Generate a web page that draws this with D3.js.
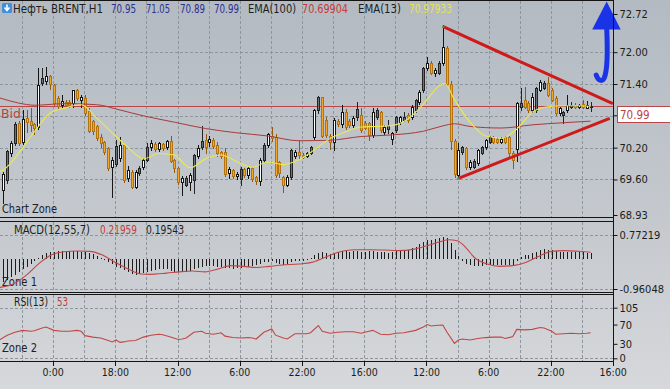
<!DOCTYPE html>
<html lang="ru">
<head>
<meta charset="UTF-8">
<title>Нефть BRENT,H1</title>
<script src="https://cdn.jsdelivr.net/npm/d3@7"></script>
<style>
  html, body { margin: 0; padding: 0; background: #d4d7da; }
  svg { display: block; font-family: "DejaVu Sans Condensed", "DejaVu Sans", sans-serif; }
</style>
</head>
<body>
<svg id="chart" width="670" height="389"></svg>
<script>
// ---- H1 bars ----
const open = [69.40,69.58,70.10,70.29,70.66,70.30,70.76,70.70,70.64,70.59,
  71.42,71.45,71.55,71.38,71.13,71.00,71.07,71.06,71.04,71.28,
  71.10,71.14,70.90,70.70,70.60,70.40,70.31,70.20,69.84,69.90,
  70.00,70.25,69.62,69.75,69.46,69.72,69.83,69.97,70.20,70.27,
  70.17,70.26,70.20,70.32,69.97,69.82,69.55,69.49,69.55,69.58,
  70.05,70.22,70.35,70.30,70.35,70.25,70.12,70.12,69.72,69.78,
  69.66,69.62,69.80,69.68,69.82,69.64,69.56,69.96,70.25,70.42,
  70.40,69.92,69.65,69.50,69.65,70.04,70.12,70.07,70.04,70.10,
  70.40,70.91,71.15,70.72,70.42,70.30,70.70,70.64,70.88,70.70,
  70.62,70.76,70.82,70.66,70.66,70.44,70.78,70.87,70.50,70.55,
  70.35,70.53,70.68,70.72,70.82,70.78,70.91,71.06,71.29,71.70,
  71.80,71.61,71.61,71.80,72.08,71.40,70.33,69.68,70.12,70.20,
  69.84,69.84,69.91,70.10,70.21,70.31,70.40,70.37,70.31,70.40,
  70.40,70.10,70.18,70.97,71.10,71.04,70.91,70.91,71.29,71.33,
  71.42,71.29,71.14,70.85,70.82,70.91,70.97,71.01,70.97,71.02,
  70.96,70.98];
const high = [69.75,70.16,70.33,70.68,70.70,70.91,70.91,70.95,70.66,71.70,
  71.70,71.72,71.57,71.40,71.18,71.19,71.10,71.10,71.29,71.30,
  71.19,71.19,70.95,70.72,70.62,70.45,70.33,70.22,70.02,70.34,
  70.40,70.27,69.85,69.78,69.78,69.86,70.00,70.28,70.34,70.30,
  70.30,70.28,70.34,70.42,69.99,69.84,69.66,69.66,69.72,70.08,
  70.25,70.61,70.45,70.42,70.38,70.30,70.14,70.20,69.84,69.80,
  69.75,69.84,69.82,69.86,69.84,69.66,70.00,70.28,70.48,70.59,
  70.45,69.95,69.67,69.68,70.18,70.16,70.34,70.10,70.12,70.24,
  70.93,71.17,71.16,70.78,70.45,70.76,70.74,71.00,70.92,70.74,
  70.80,71.07,70.94,70.70,70.68,70.95,70.95,70.90,70.62,70.72,
  70.50,70.80,70.80,70.87,70.85,71.00,71.12,71.28,71.72,71.91,
  71.84,71.70,71.84,72.51,72.12,71.45,70.36,70.29,70.24,70.22,
  69.96,69.98,70.18,70.24,70.36,70.42,70.42,70.40,70.40,70.42,
  70.42,70.14,71.06,71.32,71.34,71.08,71.23,71.34,71.47,71.45,
  71.53,71.32,71.17,70.97,70.90,71.19,71.06,71.04,71.02,71.10,
  71.08,71.07];
const low = [69.16,69.53,70.05,70.25,70.25,70.26,70.50,70.52,70.45,70.55,
  71.38,71.40,71.30,71.00,70.94,70.96,70.99,70.97,70.96,71.10,
  70.96,70.82,70.50,70.45,70.35,70.22,70.08,69.78,69.27,69.86,
  69.95,69.55,69.58,69.44,69.44,69.69,69.80,69.95,70.15,70.14,
  70.14,70.15,70.17,69.92,69.75,69.52,69.30,69.47,69.40,69.34,
  70.00,70.18,70.10,70.24,70.20,70.05,70.00,69.66,69.62,69.62,
  69.60,69.50,69.64,69.62,69.58,69.52,69.50,69.92,70.22,70.33,
  69.65,69.65,69.36,69.47,69.60,70.00,69.98,70.00,70.02,70.08,
  70.36,70.86,70.40,70.40,70.18,70.16,70.60,70.58,70.56,70.58,
  70.58,70.72,70.50,70.55,70.34,70.40,70.74,70.50,70.46,70.48,
  70.27,70.50,70.65,70.70,70.68,70.74,70.88,71.02,71.25,71.66,
  71.58,71.56,71.58,71.76,71.38,70.18,69.64,69.64,70.08,69.80,
  69.80,69.82,69.88,70.08,70.18,70.29,70.28,70.29,70.28,70.28,
  70.02,69.82,69.95,70.91,70.94,70.88,70.88,70.88,71.26,71.30,
  71.17,71.08,70.82,70.82,70.66,70.88,70.95,70.94,70.94,70.95,
  70.94,70.90];
const close = [69.70,70.13,70.28,70.65,70.29,70.74,70.68,70.62,70.57,71.38,
  71.51,71.55,71.39,71.04,70.97,71.08,71.02,71.01,71.28,71.13,
  71.16,70.86,70.53,70.52,70.38,70.29,70.12,69.82,69.97,70.24,
  70.25,69.59,69.78,69.46,69.75,69.82,69.97,70.22,70.28,70.17,
  70.28,70.18,70.32,69.95,69.82,69.55,69.62,69.63,69.68,70.06,
  70.20,70.33,70.22,70.36,70.24,70.10,70.05,69.70,69.80,69.66,
  69.70,69.80,69.68,69.82,69.62,69.56,69.96,70.25,70.45,70.38,
  69.68,69.72,69.50,69.65,70.16,70.12,70.06,70.03,70.10,70.21,
  70.91,71.15,70.42,70.44,70.30,70.72,70.64,70.87,70.60,70.62,
  70.76,70.92,70.53,70.57,70.44,70.87,70.91,70.53,70.59,70.62,
  70.47,70.78,70.78,70.78,70.72,70.97,71.10,71.25,71.70,71.80,
  71.61,71.66,71.80,72.10,71.40,70.33,69.70,70.15,70.21,69.84,
  69.93,69.95,70.16,70.21,70.34,70.40,70.31,70.31,70.37,70.31,
  70.10,69.96,71.04,71.04,70.97,70.91,71.15,71.32,71.44,71.42,
  71.19,71.10,70.85,70.95,70.87,71.00,71.00,70.97,71.00,70.97,
  71.01,70.99];

// EMA(13) and EMA(100), read at some bars
const emaFastIdx = [-1,0,4,8,12,16,20,24,28,32,36,40,44,48,52,56,60,64,68,72,76,80,84,88,92,96,100,104,108,112,113.5,116,120,124,128,132,136,140,144,148,151];
const emaFast = [69.75,69.78,70.10,70.50,70.85,70.95,71.01,70.76,70.48,70.21,69.99,70.09,70.06,69.82,69.99,70.06,69.94,69.83,69.93,69.88,69.97,70.16,70.37,70.50,70.59,70.60,70.62,70.74,71.02,71.36,71.41,71.10,70.68,70.42,70.38,70.55,70.87,70.97,70.99,70.99,70.98];
const emaSlowIdx = [-1,4,8,16,24,30,36,44,52,60,68,76,84,92,100,108,113,116,120,128,136,144,151];
const emaSlow = [71.14,71.04,71.00,71.03,71.01,70.91,70.80,70.68,70.56,70.48,70.42,70.33,70.34,70.41,70.44,70.51,70.61,70.65,70.60,70.57,70.63,70.67,70.70];
const bid = 70.99;

// MACD(12,55,7): histogram per bar, signal line at some bars
const macdHist = [-0.72,-0.66,-0.58,-0.50,-0.42,-0.33,-0.24,-0.15,-0.06,
  0.05,0.12,0.18,0.22,0.24,0.25,0.26,
  0.26,0.26,0.25,0.25,0.24,0.23,0.21,
  0.16,0.10,0.04,-0.03,
  -0.10,-0.17,-0.24,-0.30,-0.36,-0.42,-0.47,-0.50,
  -0.48,-0.45,-0.41,-0.38,-0.36,-0.33,-0.32,-0.33,-0.37,
  -0.40,-0.42,-0.43,-0.42,-0.38,-0.33,-0.28,-0.24,-0.22,-0.22,-0.23,
  -0.24,-0.25,-0.28,-0.30,-0.31,-0.30,-0.28,-0.26,-0.24,-0.22,-0.20,
  -0.16,-0.11,-0.08,-0.07,-0.12,-0.15,-0.18,-0.16,-0.10,-0.07,-0.06,-0.05,-0.04,
  0.02,0.12,0.20,0.22,0.18,0.16,0.20,0.22,
  0.25,0.25,0.24,0.25,0.27,0.24,0.23,0.25,0.27,0.24,0.22,0.22,0.20,0.22,0.25,0.27,0.28,0.30,0.34,
  0.40,0.47,0.55,0.60,0.62,0.63,0.66,0.70,0.68,
  0.52,0.30,0.10,-0.05,-0.15,-0.20,
  -0.22,-0.22,-0.21,-0.20,-0.20,-0.19,-0.18,-0.18,-0.19,-0.20,-0.18,-0.05,
  0.08,0.12,0.14,0.18,0.24,0.28,0.31,0.30,
  0.28,0.25,0.23,0.22,0.23,0.22,0.22,0.22,0.22,0.21,0.20];
const macdSigIdx = [-1,2.5,5.7,9,12.3,15.6,18.9,22.2,25.5,28.8,32.1,35.4,37.6,42,45.3,48.6,51.9,55.2,58.5,61.8,65.1,68.4,71.7,76,79.3,82.6,85.9,90.3,94.7,98,101.3,105.7,109,112.3,114.5,116.7,118.9,121.1,124.4,127.7,131,134.3,137.6,140.9,144.2,151];
const macdSig = [-0.91,-0.80,-0.54,-0.16,0.13,0.235,0.257,0.246,0.128,-0.107,-0.32,-0.48,-0.49,-0.45,-0.41,-0.385,-0.41,-0.32,-0.21,-0.235,-0.27,-0.235,-0.19,-0.16,-0.107,0.05,0.21,0.30,0.30,0.29,0.27,0.32,0.43,0.556,0.62,0.59,0.37,0.05,-0.16,-0.235,-0.21,-0.107,0.086,0.246,0.27,0.22];

// RSI(13)
const rsiIdx = [-1,1,3,5,7,8,10,11,13,15,17,19,20,21,23,25,27,28,29,30,31,32,34,36,38,40,41,43,45,46,47,49,51,52,54,56,57,59,61,63,64,65,67,69,70,72,73,75,78,79,81,82,84,86,88,90,92,94,95,97,99,101,103,106,108,109,110,111,113,114,116,117,118,120,122,124,126,128,129,131,132,134,136,138,139,141,142,144,146,148,150,151];
const rsiVal = [38,48,54,58,56,57,63,65,58,56,56,58,56,47,44,42,37,34,38,33,34,36,37,44,48,50,49,44,39,40,42,54,56,52,50,53,46,43,42,43,42,40,54,61,48,42,40,51,51,53,68,56,52,54,55,55,52,56,58,50,49,52,53,58,65,70,67,68,69,55,31,38,40,38,41,43,44,44,41,45,60,59,60,64,63,56,50,51,52,51,52,53];

// axes (70.80 sits under the current price box, so it gets no label)
const priceTicks = [72.72, 72.00, 71.40, 70.20, 69.60, 68.93];
const priceGrid = [72.00, 71.40, 70.80, 70.20, 69.60];
const macdTicks = [0.77219, -0.96048];
const rsiTicks = [105, 70, 30, 0];
const timeIdx = [12.8, 28.8, 44.8, 60.8, 76.8, 92.8, 108.8, 124.8, 140.8, 156.8];
const timeLabels = ["0:00", "18:00", "12:00", "6:00", "22:00", "16:00", "12:00", "6:00", "22:00", "16:00"];

// drawn annotations (bar index, price)
const triUpper = [[113.1, 72.48], [156.7, 71.03]];
const triLower = [[117.0, 69.62], [155.9, 70.75]];

// ---- layout ----
const svg = d3.select("#chart");
const axisX = 613.5;
const x = d3.scaleLinear().domain([0, 156.8]).range([3.3, 613.2]);
const yP = d3.scaleLinear().domain([68.93, 72.72]).range([215, 14]);
const yM = d3.scaleLinear().domain([-0.96048, 0.77219]).range([289, 235]);
const yR = d3.scaleLinear().domain([0, 105]).range([358.3, 307.7]);

const panels = {
  main: { top: 1, bottom: 217 },
  macd: { top: 222, bottom: 292 },
  rsi: { top: 295, bottom: 361 }
};

const defs = svg.append("defs");
const bg = defs.append("linearGradient").attr("id", "bg")
  .attr("x1", 0).attr("y1", 0).attr("x2", 0).attr("y2", 1);
bg.append("stop").attr("offset", "0%").attr("stop-color", "#b3bac2");
bg.append("stop").attr("offset", "60%").attr("stop-color", "#c6cacf");
bg.append("stop").attr("offset", "100%").attr("stop-color", "#d6d8db");
svg.append("rect").attr("width", 670).attr("height", 389).attr("fill", "url(#bg)");

Object.entries(panels).forEach(([k, p]) => {
  defs.append("clipPath").attr("id", "clip-" + k)
    .append("rect").attr("x", 0).attr("y", p.top).attr("width", axisX).attr("height", p.bottom - p.top);
});

const gridColor = "#8d959d";
const gridIdx = d3.range(4.8, 150, 8);

// vertical dashed grid in every panel
Object.values(panels).forEach(p => {
  svg.append("g").selectAll("line").data(gridIdx).join("line")
    .attr("x1", d => Math.round(x(d)) + 0.5).attr("x2", d => Math.round(x(d)) + 0.5)
    .attr("y1", p.top).attr("y2", p.bottom)
    .attr("stroke", gridColor).attr("stroke-dasharray", "3,2");
});

function hGrid(vals, scale) {
  svg.append("g").selectAll("line").data(vals).join("line")
    .attr("x1", 0).attr("x2", axisX)
    .attr("y1", d => Math.round(scale(d)) + 0.5).attr("y2", d => Math.round(scale(d)) + 0.5)
    .attr("stroke", gridColor).attr("stroke-dasharray", "3,2");
}
hGrid(priceGrid, yP);
hGrid(macdTicks, yM);
hGrid([105, 0], yR);

// panel labels
const labelFont = 11.5;
function label(txt, px, py, color, len) {
  const t = svg.append("text").attr("x", px).attr("y", py).text(txt)
    .attr("fill", color).attr("font-size", labelFont);
  if (len) t.attr("textLength", len).attr("lengthAdjust", "spacingAndGlyphs");
  return t;
}
label("Chart Zone", 2, 213, "#1e2226", 55);
label("Zone 1", 2, 286, "#1e2226", 35);
label("Zone 2", 2, 352, "#1e2226", 35);

// ---- main panel ----
const main = svg.append("g").attr("clip-path", "url(#clip-main)");

main.append("line")
  .attr("x1", 0).attr("x2", axisX)
  .attr("y1", Math.round(yP(bid)) + 0.5).attr("y2", Math.round(yP(bid)) + 0.5)
  .attr("stroke", "#b8474a");
label("Bid", 1, 118, "#c2403c", 20);

const bars = close.map((c, i) => ({ i, o: open[i], h: high[i], l: low[i], c }));
bars.forEach((b, i) => {
  if (b.c >= b.o) {
    const prev = bars[i - 1];
    b.kind = (prev && prev.kind === "white") ? "gray" : "white";
  } else b.kind = "down";
});
const fills = { white: "#ffffff", gray: "#6b737a", down: "#f0a52c" };
const edges = { white: "#161616", gray: "#242424", down: "#b5730f" };
const wicks = { white: "#161616", gray: "#242424", down: "#8c5a10" };

const cg = main.append("g").attr("shape-rendering", "crispEdges");
cg.selectAll("line").data(bars).join("line")
  .attr("x1", d => Math.round(x(d.i)) + 0.5).attr("x2", d => Math.round(x(d.i)) + 0.5)
  .attr("y1", d => Math.round(yP(d.h))).attr("y2", d => Math.round(yP(d.l)) + 1)
  .attr("stroke", d => wicks[d.kind]);
cg.selectAll("rect").data(bars).join("rect")
  .attr("x", d => Math.round(x(d.i)) - 0.5)
  .attr("y", d => Math.round(yP(Math.max(d.o, d.c))) + 0.5)
  .attr("width", 2)
  .attr("height", d => Math.max(1, Math.round(Math.abs(yP(d.o) - yP(d.c)))))
  .attr("fill", d => fills[d.kind]).attr("stroke", d => edges[d.kind]);

const smooth = d3.line().x(d => x(d[0])).y(d => yP(d[1])).curve(d3.curveMonotoneX);
main.append("path").datum(emaSlowIdx.map((k, j) => [k, emaSlow[j]]))
  .attr("d", smooth).attr("fill", "none").attr("stroke", "#a83a3a").attr("stroke-width", 1);
main.append("path").datum(emaFastIdx.map((k, j) => [k, emaFast[j]]))
  .attr("d", smooth).attr("fill", "none").attr("stroke", "#eaea4c").attr("stroke-width", 1.1);

// triangle drawn on the chart
[triUpper, triLower].forEach(seg => {
  svg.append("line")
    .attr("x1", x(seg[0][0])).attr("y1", yP(seg[0][1]))
    .attr("x2", x(seg[1][0])).attr("y2", yP(seg[1][1]))
    .attr("stroke", "#cf1a1a").attr("stroke-width", 3);
});
// small green anchors at the triangle starts
[triUpper[0], triLower[0]].forEach(p => {
  svg.append("circle").attr("cx", x(p[0])).attr("cy", yP(p[1])).attr("r", 1.3).attr("fill", "#4a9a4a");
});

// blue arrow (pointing up)
const ax = x(155.0), ay = yP(72.72);
svg.append("path")
  .attr("d", `M${ax + 0.5},${ay + 14} C${ax + 1.5},${ay + 36} ${ax + 1.5},${ay + 56} ${ax - 2},${ay + 64} C${ax - 4},${ay + 68} ${ax - 8},${ay + 67} ${ax - 10},${ay + 61}`)
  .attr("fill", "none").attr("stroke", "#1b33e6").attr("stroke-width", 5).attr("stroke-linecap", "round");
svg.append("path")
  .attr("d", `M${ax + 0.5},${ay - 12.5} L${ax - 14},${ay + 15.5} L${ax + 14.5},${ay + 15.5} Z`)
  .attr("fill", "#1b33e6");

// ---- MACD panel ----
const mg = svg.append("g").attr("clip-path", "url(#clip-macd)");
mg.append("g").attr("shape-rendering", "crispEdges").selectAll("line").data(macdHist).join("line")
  .attr("x1", (d, i) => Math.round(x(i)) + 0.5).attr("x2", (d, i) => Math.round(x(i)) + 0.5)
  .attr("y1", yM(0)).attr("y2", d => yM(d))
  .attr("stroke", "#1c1c1c");
mg.append("path").datum(macdSigIdx.map((k, j) => [k, macdSig[j]]))
  .attr("d", d3.line().x(d => x(d[0])).y(d => yM(d[1])).curve(d3.curveMonotoneX))
  .attr("fill", "none").attr("stroke", "#c24646").attr("stroke-width", 1.1);

// ---- RSI panel ----
const rg = svg.append("g").attr("clip-path", "url(#clip-rsi)");
rg.append("path").datum(rsiIdx.map((k, j) => [k, rsiVal[j]]))
  .attr("d", d3.line().x(d => x(d[0])).y(d => yR(d[1])))
  .attr("fill", "none").attr("stroke", "#c24646").attr("stroke-width", 1.1);

// ---- frame ----
const frame = svg.append("g").attr("stroke", "#141414").attr("shape-rendering", "crispEdges");
[0.5, 217.5, 221.5, 292.5, 294.5, 361.5].forEach(yy => {
  frame.append("line").attr("x1", 0).attr("x2", axisX).attr("y1", yy).attr("y2", yy);
});
frame.append("line").attr("x1", axisX).attr("x2", axisX).attr("y1", 0).attr("y2", 362);

// ---- right axes ----
function styleAxis(g) {
  g.select(".domain").remove();
  g.selectAll(".tick line").attr("stroke", "#141414");
  g.selectAll(".tick text").attr("fill", "#1a1d20").attr("font-size", 11)
    .attr("font-family", "'DejaVu Sans Condensed','DejaVu Sans',sans-serif");
}
svg.append("g").attr("transform", `translate(${axisX},0)`)
  .call(d3.axisRight(yP).tickValues(priceTicks).tickSize(4).tickPadding(2).tickFormat(d3.format(".2f")))
  .call(styleAxis);
svg.append("g").attr("transform", `translate(${axisX},0)`)
  .call(d3.axisRight(yM).tickValues(macdTicks).tickSize(4).tickPadding(2).tickFormat(d => d3.format(".5f")(d).replace("−", "-")))
  .call(styleAxis);
svg.append("g").attr("transform", `translate(${axisX},0)`)
  .call(d3.axisRight(yR).tickValues(rsiTicks).tickSize(4).tickPadding(2).tickFormat(d3.format("d")))
  .call(styleAxis);

// current price box
const by = Math.round(yP(bid));
svg.append("line").attr("x1", axisX).attr("x2", axisX + 4).attr("y1", yP(70.80)).attr("y2", yP(70.80))
  .attr("stroke", "#141414");
svg.append("rect").attr("x", 617.5).attr("y", by + 0.5).attr("width", 53).attr("height", 16)
  .attr("fill", "#ffffff").attr("stroke", "#b8474a");
svg.append("text").attr("x", 620).attr("y", by + 13).text(d3.format(".2f")(bid))
  .attr("fill", "#c2403c").attr("font-size", 11.5);

// ---- time axis ----
const tg = svg.append("g");
tg.selectAll("line").data(timeIdx).join("line")
  .attr("x1", d => Math.round(x(d)) + 0.5).attr("x2", d => Math.round(x(d)) + 0.5)
  .attr("y1", 362).attr("y2", 366).attr("stroke", "#141414");
tg.selectAll("text").data(timeIdx).join("text")
  .attr("x", d => x(d)).attr("y", 376).attr("text-anchor", "middle")
  .attr("font-size", 10.5).attr("fill", "#1a1d20")
  .text((d, i) => timeLabels[i]);

// ---- header ----
const icon = svg.append("g").attr("transform", "translate(2,3)");
icon.append("rect").attr("width", 10).attr("height", 10).attr("rx", 1.5).attr("fill", "#3f8fdc");
icon.append("path").attr("d", "M5,1.5 L5,6 M2.5,4.5 L5,7.5 L7.5,4.5").attr("stroke", "#ffffff")
  .attr("stroke-width", 1.6).attr("fill", "none");

const header = [
  { t: "Нефть BRENT,H1", x: 13, w: 90, c: "#1b1e22" },
  { t: "70.95", x: 111, w: 25, c: "#2b2f8e" },
  { t: "71.05", x: 146, w: 24, c: "#2b2f8e" },
  { t: "70.89", x: 180, w: 25, c: "#2b2f8e" },
  { t: "70.99", x: 214, w: 25, c: "#2b2f8e" },
  { t: "EMA(100)", x: 248, w: 48, c: "#1b1e22" },
  { t: "70.69904", x: 302, w: 46, c: "#c23a3a" },
  { t: "EMA(13)", x: 358, w: 43, c: "#1b1e22" },
  { t: "70.97933", x: 409, w: 43, c: "#e4e44a" }
];
svg.append("g").selectAll("text").data(header).join("text")
  .attr("x", d => d.x).attr("y", 13).text(d => d.t)
  .attr("fill", d => d.c).attr("font-size", 12)
  .attr("textLength", d => d.w).attr("lengthAdjust", "spacingAndGlyphs");

// indicator headers
label("MACD(12,55,7)", 14, 234, "#1b1e22", 76);
label("0.21959", 100, 234, "#c23a3a", 37);
label("0.19543", 146, 234, "#1b1e22", 38);
label("RSI(13)", 14, 306, "#1b1e22", 34);
label("53", 57, 306, "#c23a3a", 11);
</script>
</body>
</html>
